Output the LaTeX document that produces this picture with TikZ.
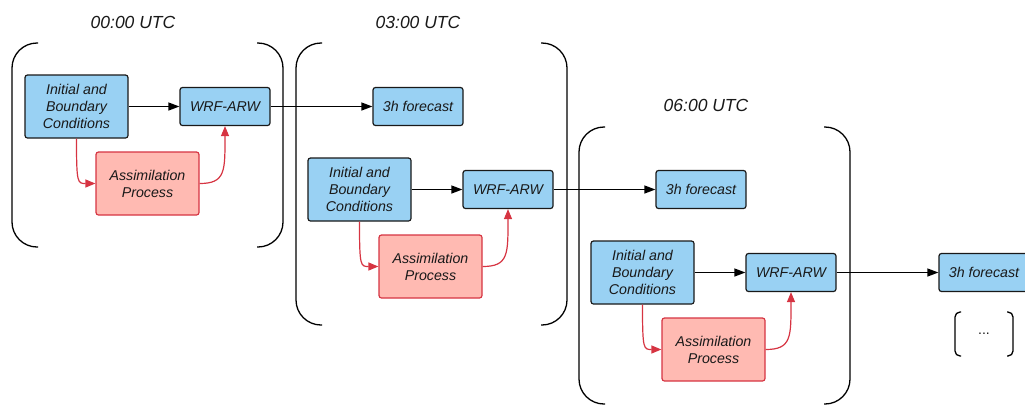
\documentclass[tikz,border=0pt]{standalone}
\usepackage{fontspec}
\setmainfont{Liberation Sans}
\usetikzlibrary{arrows.meta}
\definecolor{boxblue}{RGB}{153,209,243}
\definecolor{boxpink}{RGB}{255,186,178}
\definecolor{linered}{RGB}{214,52,66}
\tikzset{
  bluebox/.style={draw=black!90, fill=boxblue, rounded corners=2.5pt, line width=1.2pt,
    font=\fontsize{14.2}{17}\selectfont\itshape, align=center, inner sep=0pt, text=black!90},
  pinkbox/.style={draw=linered, fill=boxpink, rounded corners=2.5pt, line width=1.2pt,
    font=\fontsize{14.2}{17}\selectfont\itshape, align=center, inner sep=0pt, text=black!90},
  bigbox/.style={minimum width=103pt, minimum height=63pt},
  smallbox/.style={minimum width=90pt, minimum height=38pt},
  blackarrow/.style={draw=black, line width=1.2pt, -{Triangle[length=11pt,width=8pt]}},
  redarrow/.style={draw=linered, line width=1.2pt, -{Triangle[length=10pt,width=8pt]}},
  brk/.style={draw=black, line width=1.3pt},
  title/.style={font=\fontsize{17.5}{20}\selectfont\itshape, text=black!90},
}
\newcommand\stagenodes[3]{%
  \begin{scope}[shift={(#2,#3)}]
    \node[bluebox,bigbox] (ibc#1) at (76.5,106.5) {Initial and\\Boundary\\Conditions};
    \node[bluebox,smallbox] (wrf#1) at (225,106.5) {WRF-ARW};
    \node[pinkbox,bigbox] (as#1) at (147.5,183.5) {Assimilation\\Process};
    \node[bluebox,smallbox] (fc#1) at (418,106.5) {3h forecast};
  \end{scope}
  \draw[blackarrow] (ibc#1.east) -- (ibc#1.east -| wrf#1.west);
  \draw[redarrow] (ibc#1.south) .. controls +(0,45) and +(-18,0) .. (as#1.west);
  \draw[redarrow] (as#1.east) .. controls +(26,0) and +(0,45) .. (wrf#1.south);
  \draw[blackarrow] (wrf#1.east) -- (wrf#1.east -| fc#1.west);
}
\newcommand\panelbrackets[5]{% x1 y1 x2 y2 radius
  \draw[brk, rounded corners=#5] (#1+#5+1,#2) -- (#1,#2) -- (#1,#4) -- (#1+#5+1,#4);
  \draw[brk, rounded corners=#5] (#3-#5-1,#2) -- (#3,#2) -- (#3,#4) -- (#3-#5-1,#4);
}
\begin{document}
\begin{tikzpicture}[x=1pt,y=-1pt]
\useasboundingbox (0,0) rectangle (1025,405);
\clip (0,0) rectangle (1025,405);
\panelbrackets{12}{43}{283}{247}{25}
\panelbrackets{296}{43}{567}{325}{25}
\panelbrackets{579}{127}{850}{404}{25}
\panelbrackets{955}{312}{1013}{356}{5}
\node[title] (t1) at (133,22) {00:00 UTC};
\node[title] (t2) at (418,22) {03:00 UTC};
\node[title] (t3) at (706,105) {06:00 UTC};
\stagenodes{1}{0}{0}
\stagenodes{2}{283}{83}
\stagenodes{3}{566}{166}
\node[font=\fontsize{14}{16}\selectfont, text=black!90] (dots) at (984,334) {...};
\end{tikzpicture}
\end{document}
